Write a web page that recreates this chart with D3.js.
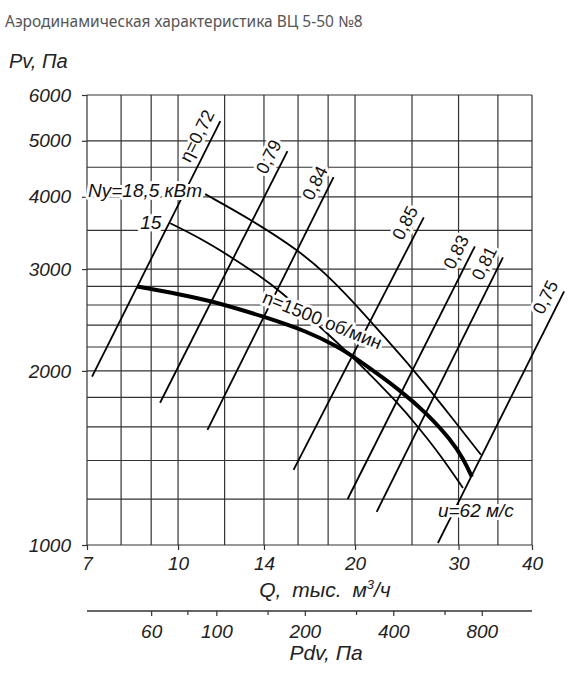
<!DOCTYPE html>
<html>
<head>
<meta charset="utf-8">
<script src="https://cdn.jsdelivr.net/npm/d3@7"></script>
<style>
body { margin: 0; background: #fff; }
</style>
</head>
<body>
<svg id="chart" width="585" height="676"></svg>
<script>
// grid / ticks (Q, тыс. м3/ч and Pv, Па)
var qGrid = [7, 8, 9, 10, 12, 14, 16, 18, 20, 25, 30, 35, 40];
var qTicks = [7, 10, 14, 20, 30, 40];
var pGrid = [1000, 1200, 1400, 1600, 1800, 2000, 2200, 2400, 2600, 2800, 3000, 3500, 4000, 4500, 5000, 6000];
var pTicks = [1000, 2000, 3000, 4000, 5000, 6000];
// dynamic pressure scale under the chart
var pdvDomain = [36.3, 1186];
var pdvTicks = [60, 100, 200, 400, 800];
var pdvMinor = [80, 150, 300, 600];

// n=1500 об/мин curve
var speedQ = [8.52, 10.08, 11.48, 13.97, 16.61, 18.68, 19.89, 24.2, 26.6, 29.1, 30.64, 31.6];
var speedP = [2800, 2713, 2638, 2485, 2340, 2203, 2117, 1834, 1680, 1521, 1404, 1312];
// power Ny=18,5 кВт
var power185Q = [11.12, 13.28, 16.03, 17.82, 19.89, 21.10, 25.07, 28.0, 32.75];
var power185P = [4043, 3658, 3232, 2949, 2627, 2455, 2018, 1755, 1432];
// power 15 кВт
var power15Q = [9.70, 10.91, 12.27, 13.81, 14.94, 17.2, 19.81, 23.65, 25.67, 28.0, 30.52];
var power15P = [3600, 3391, 3156, 2914, 2745, 2415, 2117, 1762, 1595, 1427, 1255];
// efficiency lines (lower end, upper end)
var etaNames = ["η=0,72", "0,79", "0,84", "0,85", "0,83", "0,81", "0,75"];
var etaQ = [[7.14, 11.80], [9.32, 15.35], [11.22, 18.39], [15.72, 26.18], [19.43, 31.98], [21.77, 35.70], [27.67, 45.36]];
var etaP = [[1955, 5409], [1762, 4799], [1582, 4325], [1349, 3687], [1201, 3285], [1141, 3144], [1008, 2745]];

var svg = d3.select("#chart");
var font = "'Liberation Sans', Arial, sans-serif";

var x = d3.scaleLog().domain([7, 40]).range([87, 532]);
var y = d3.scaleLog().domain([1000, 6000]).range([545, 95]);
var xp = d3.scaleLog().domain(pdvDomain).range([87, 532]);

// title
svg.append("text")
  .attr("x", 5).attr("y", 27)
  .style("font-family", "'Noto Sans', 'Open Sans', sans-serif")
  .style("font-size", "15.5px")
  .attr("fill", "#555")
  .text("Аэродинамическая характеристика ВЦ 5-50 №8");

// grid
var grid = svg.append("g").attr("stroke", "#333").attr("stroke-width", 1.2);
grid.selectAll("line.v").data(qGrid).join("line")
  .attr("class", "v")
  .attr("x1", d => x(d)).attr("x2", d => x(d))
  .attr("y1", y(6000)).attr("y2", y(1000));
grid.selectAll("line.h").data(pGrid).join("line")
  .attr("class", "h")
  .attr("x1", x(7)).attr("x2", x(40))
  .attr("y1", d => y(d)).attr("y2", d => y(d));

// axes
var xAxis = svg.append("g")
  .attr("transform", "translate(0," + y(1000) + ")")
  .call(d3.axisBottom(x).tickValues(qTicks).tickSize(5).tickPadding(7).tickFormat(d3.format("d")));
var yAxis = svg.append("g")
  .attr("transform", "translate(" + x(7) + ",0)")
  .call(d3.axisLeft(y).tickValues(pTicks).tickSize(5).tickPadding(11).tickFormat(d3.format("d")));
[xAxis, yAxis].forEach(function(g) {
  g.select(".domain").remove();
  g.selectAll(".tick line").attr("stroke", "#333").attr("stroke-width", 1.2);
  g.selectAll(".tick text")
    .style("font-family", font).style("font-size", "19px").style("font-style", "italic")
    .attr("fill", "#222");
});

// Pdv axis
var pAxis = svg.append("g")
  .attr("transform", "translate(0,611)")
  .call(d3.axisBottom(xp).tickValues(pdvTicks).tickSize(5).tickPadding(9).tickFormat(d3.format("d")));
pAxis.select(".domain").attr("stroke", "#333").attr("stroke-width", 1.3).attr("d", "M87,0H532");
pAxis.selectAll(".tick line").attr("stroke", "#333").attr("stroke-width", 1.2);
pAxis.selectAll(".tick text")
  .style("font-family", font).style("font-size", "19px").style("font-style", "italic")
  .attr("fill", "#222");
pAxis.selectAll("line.minor").data(pdvMinor).join("line")
  .attr("class", "minor")
  .attr("x1", d => xp(d)).attr("x2", d => xp(d))
  .attr("y1", 0).attr("y2", 4)
  .attr("stroke", "#333").attr("stroke-width", 1.2);

// axis titles
svg.append("text")
  .attr("x", 9).attr("y", 68)
  .style("font-family", font).style("font-size", "20px").style("font-style", "italic")
  .attr("fill", "#222")
  .text("Pv, Па");
var qTitle = svg.append("text")
  .attr("x", 325).attr("y", 597).attr("text-anchor", "middle")
  .style("font-family", font).style("font-size", "21px").style("font-style", "italic")
  .style("word-spacing", "5px")
  .attr("fill", "#222");
qTitle.append("tspan").text("Q, тыс. м");
qTitle.append("tspan").attr("dy", -8).style("font-size", "13px").text("3");
qTitle.append("tspan").attr("dy", 8).text("/ч");
svg.append("text")
  .attr("x", 326).attr("y", 660).attr("text-anchor", "middle")
  .style("font-family", font).style("font-size", "21px").style("font-style", "italic")
  .attr("fill", "#222")
  .text("Pdv, Па");

// efficiency lines
var etaG = svg.append("g");
etaG.selectAll("line").data(etaNames).join("line")
  .attr("x1", (d, i) => x(etaQ[i][0])).attr("y1", (d, i) => y(etaP[i][0]))
  .attr("x2", (d, i) => x(etaQ[i][1])).attr("y2", (d, i) => y(etaP[i][1]))
  .attr("stroke", "#000").attr("stroke-width", 1.8);

// curves
var line = function(qs, ps) {
  return d3.line().curve(d3.curveBasis)(qs.map((q, i) => [x(q), y(ps[i])]));
};
svg.append("path").attr("d", line(power185Q, power185P))
  .attr("fill", "none").attr("stroke", "#000").attr("stroke-width", 1.8);
svg.append("path").attr("d", line(power15Q, power15P))
  .attr("fill", "none").attr("stroke", "#000").attr("stroke-width", 1.8);
svg.append("path").attr("d", line(speedQ, speedP))
  .attr("fill", "none").attr("stroke", "#000").attr("stroke-width", 4);

// labels with white halo
function halo(sel) {
  return sel.attr("stroke", "#fff").attr("stroke-width", 6)
    .attr("stroke-linejoin", "round").attr("paint-order", "stroke")
    .attr("fill", "#111").style("font-family", font);
}
etaNames.forEach(function(name, i) {
  var x1 = x(etaQ[i][0]), y1 = y(etaP[i][0]), x2 = x(etaQ[i][1]), y2 = y(etaP[i][1]);
  var len = Math.hypot(x2 - x1, y2 - y1), ux = (x2 - x1) / len, uy = (y2 - y1) / len;
  var lx = x2 + ux * 4 + uy * 14, ly = y2 + uy * 4 - ux * 14;
  var ang = Math.atan2(y2 - y1, x2 - x1) * 180 / Math.PI;
  halo(svg.append("text"))
    .attr("transform", "translate(" + lx + "," + ly + ") rotate(" + ang + ")")
    .attr("text-anchor", "end").attr("dominant-baseline", "central")
    .style("font-size", "18px")
    .text(name);
});

halo(svg.append("text"))
  .attr("x", x(7) + 1).attr("y", y(4000))
  .style("font-size", "19px").style("font-style", "italic")
  .text("Ny=18,5 кВт");
halo(svg.append("text"))
  .attr("x", x(power15Q[0]) - 9).attr("y", y(power15P[0]) - 1)
  .attr("text-anchor", "end").attr("dominant-baseline", "central")
  .style("font-size", "19px").style("font-style", "italic")
  .text("15");
halo(svg.append("text"))
  .attr("transform", "translate(" + x(17.6) + "," + y(2450) + ") rotate(22)")
  .attr("text-anchor", "middle").attr("dominant-baseline", "central")
  .style("font-size", "18.5px")
  .text("n=1500 об/мин");
halo(svg.append("text"))
  .attr("x", x(27.67)).attr("y", y(1145))
  .attr("dominant-baseline", "central")
  .style("font-size", "19px").style("font-style", "italic")
  .text("u=62 м/с");
</script>
</body>
</html>
